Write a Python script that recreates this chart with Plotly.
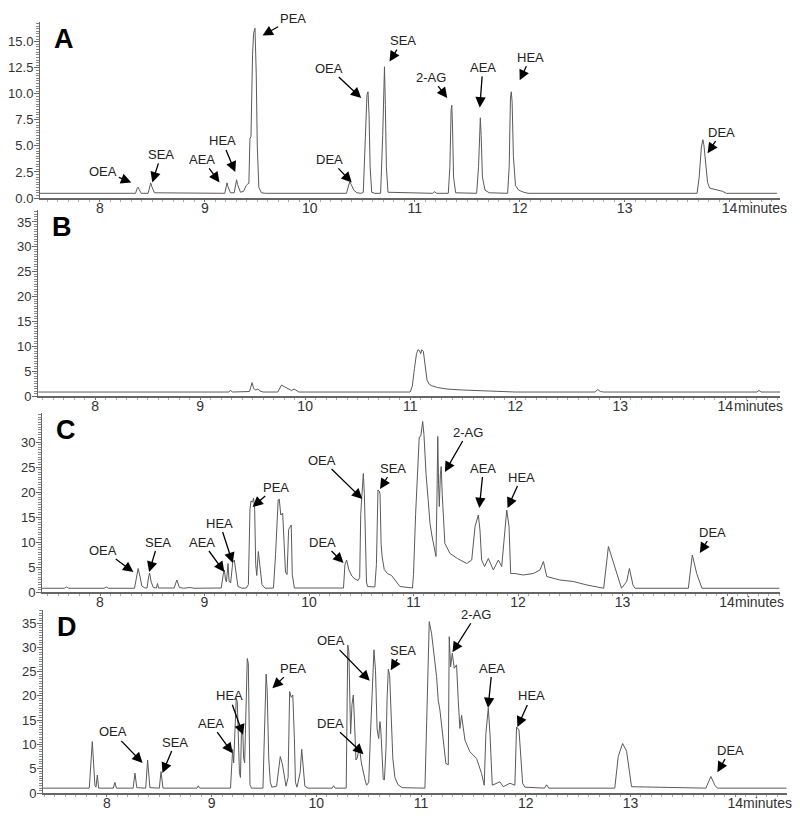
import plotly.graph_objects as go

# ---------------- DATA (retention time in minutes, signal) ----------------
# Panel A
a_time = [7.43, 8.34, 8.355, 8.365, 8.375, 8.395, 8.46, 8.475, 8.485, 8.495, 8.52,
          9.19, 9.205, 9.212, 9.22, 9.245, 9.28, 9.295, 9.303, 9.312, 9.34,
          9.37, 9.395, 9.41, 9.42, 9.43, 9.44, 9.455, 9.465, 9.478, 9.49, 9.50, 9.515, 9.54, 9.58,
          10.35, 10.365, 10.38, 10.395, 10.42, 10.45, 10.49,
          10.51, 10.53, 10.545, 10.555, 10.565, 10.575, 10.59, 10.62,
          10.675, 10.695, 10.705, 10.712, 10.72, 10.73, 10.745,
          11.17, 11.19, 11.21,
          11.32, 11.335, 11.347, 11.353, 11.36, 11.37, 11.39,
          11.59, 11.608, 11.618, 11.625, 11.633, 11.645, 11.67, 11.71,
          11.885, 11.90, 11.912, 11.92, 11.928, 11.94, 11.96, 11.99, 12.04, 12.08,
          13.69, 13.71, 13.73, 13.745, 13.755, 13.77, 13.79, 13.81, 13.87, 13.93, 13.97, 14.45]
a_signal = [0.45, 0.45, 0.9, 1.05, 0.8, 0.45, 0.45, 1.2, 1.45, 1.1, 0.5,
            0.45, 1.2, 1.45, 1.1, 0.5, 0.5, 1.5, 1.75, 1.3, 0.55,
            0.65, 1.2, 1.35, 1.4, 5.7, 5.9, 13.8, 15.8, 16.3, 12.0, 5.0, 1.0, 0.5, 0.45,
            0.45, 1.0, 1.55, 1.3, 0.75, 0.5, 0.45,
            0.55, 5.0, 9.9, 10.2, 8.0, 3.0, 0.55, 0.45,
            0.45, 6.0, 12.2, 12.6, 9.0, 3.0, 0.55,
            0.45, 0.6, 0.45,
            0.45, 3.0, 8.5, 8.9, 7.0, 2.0, 0.5,
            0.45, 3.0, 7.4, 7.7, 6.0, 2.0, 0.75, 0.5,
            0.45, 3.0, 9.6, 10.2, 9.2, 4.0, 1.2, 0.75, 0.55, 0.45,
            0.45, 2.0, 4.8, 5.6, 5.1, 3.5, 1.5, 0.95, 0.8, 0.65, 0.45, 0.45]

# Panel B
b_time = [7.46, 9.27, 9.29, 9.31, 9.47, 9.485, 9.495, 9.51, 9.53, 9.55, 9.57, 9.60,
          9.74, 9.76, 9.775, 9.80, 9.84, 9.87, 9.895, 9.915, 9.94,
          11.00, 11.02, 11.04, 11.06, 11.075, 11.09, 11.10, 11.11, 11.125, 11.14, 11.16,
          11.18, 11.20, 11.26, 11.35, 11.50, 11.80, 12.0,
          12.76, 12.785, 12.81, 12.84, 14.30, 14.32, 14.34, 14.52]
b_signal = [0.8, 0.8, 1.1, 0.8, 0.9, 2.4, 2.7, 1.5, 1.2, 1.4, 1.0, 0.8,
            0.8, 1.6, 2.2, 1.9, 1.5, 1.1, 1.4, 1.1, 0.8,
            0.8, 2.0, 5.5, 8.5, 9.3, 9.1, 8.5, 9.3, 9.0, 6.0, 3.2,
            2.4, 2.1, 1.7, 1.4, 1.2, 1.0, 0.8,
            0.8, 1.3, 0.9, 0.8, 0.8, 1.1, 0.8, 0.8]

# Panel C
c_time = [7.445, 7.66, 7.68, 7.70, 8.04, 8.06, 8.08,
          8.33, 8.35, 8.365, 8.38, 8.40, 8.43, 8.45, 8.465, 8.475, 8.49, 8.51, 8.54, 8.55, 8.56,
          8.71, 8.735, 8.76, 8.80, 8.86, 8.90,
          9.16, 9.18, 9.19, 9.20, 9.21, 9.225, 9.235, 9.25, 9.27, 9.285, 9.30, 9.32, 9.36, 9.40,
          9.42, 9.435, 9.445, 9.46, 9.47, 9.48, 9.49, 9.50, 9.515, 9.53, 9.55, 9.58,
          9.66, 9.68, 9.705, 9.715, 9.73, 9.748, 9.76, 9.775, 9.79, 9.805, 9.83, 9.84, 9.86,
          10.33, 10.344, 10.36, 10.38, 10.41, 10.44, 10.47, 10.485,
          10.495, 10.505, 10.52, 10.53, 10.54, 10.55, 10.56, 10.63,
          10.645, 10.66, 10.672, 10.68, 10.69, 10.70, 10.72, 10.75, 10.79, 10.83, 10.87, 10.99,
          11.00, 11.02, 11.04, 11.055, 11.07, 11.088, 11.10, 11.12, 11.14, 11.158, 11.175, 11.19,
          11.205, 11.215, 11.225, 11.232, 11.24, 11.247, 11.257, 11.265, 11.275, 11.29, 11.30,
          11.35, 11.42, 11.51, 11.557,
          11.589, 11.62, 11.636, 11.652, 11.68, 11.716, 11.764, 11.812, 11.844,
          11.87, 11.892, 11.914, 11.93, 11.97, 12.05, 12.147, 12.21, 12.243, 12.275,
          12.40, 12.53, 12.66, 12.82, 12.865, 12.913, 12.99, 13.04, 13.066, 13.10, 13.12,
          13.63, 13.668, 13.71, 13.76, 14.50]
c_signal = [0.75, 0.75, 1.0, 0.75, 0.75, 1.0, 0.75,
            0.75, 3.0, 4.7, 3.4, 1.2, 0.8, 0.8, 3.0, 3.8, 2.0, 0.9, 0.8, 1.7, 0.8,
            0.8, 2.4, 0.9, 0.75, 0.9, 0.75,
            0.8, 3.6, 4.4, 2.6, 2.0, 5.7, 2.2, 1.8, 5.9, 6.4, 4.0, 1.1, 0.75, 0.8,
            1.5, 16.5, 18.2, 18.0, 18.8, 16.5, 5.5, 3.3, 8.1, 5.5, 1.5, 0.75,
            0.8, 7.5, 18.4, 18.6, 15.4, 15.8, 11.5, 4.0, 3.5, 12.5, 13.4, 3.5, 0.8,
            0.8, 5.5, 6.4, 4.5, 3.2, 2.6, 2.3, 2.9,
            15.5, 19.0, 23.7, 19.5, 7.5, 2.0, 1.1, 1.0,
            5.5, 20.4, 20.2, 19.5, 9.5, 7.0, 4.5, 3.7, 3.3, 2.2, 1.1, 0.8,
            3.5, 15.5, 26.5, 31.0, 31.2, 34.1, 31.5, 23.5, 18.5, 13.7, 11.4, 9.7,
            7.9, 7.1, 19.5, 31.1, 21.5, 17.1, 23.5, 25.1, 19.5, 11.5, 9.7,
            7.7, 6.7, 5.7, 6.4,
            13.1, 15.4, 12.4, 6.4, 5.1, 6.7, 4.4, 6.4, 5.1,
            11.7, 16.4, 13.1, 3.7, 3.7, 3.4, 3.7, 4.4, 6.1, 3.1,
            2.4, 2.1, 1.4, 0.75, 9.1, 5.7, 0.75, 2.1, 4.7, 1.4, 0.75,
            0.75, 7.4, 3.7, 0.75, 0.75]

# Panel D
d_time = [7.39, 7.831, 7.86, 7.885, 7.895, 7.908, 7.92, 8.06, 8.076, 8.09,
          8.25, 8.267, 8.285, 8.37, 8.388, 8.41, 8.50, 8.516, 8.535, 8.86, 8.872, 8.885,
          9.18, 9.19, 9.20, 9.21, 9.225, 9.235, 9.245, 9.255, 9.265, 9.275, 9.285, 9.295,
          9.305, 9.315, 9.33, 9.34, 9.35, 9.358, 9.366, 9.38,
          9.49, 9.50, 9.505, 9.51, 9.52, 9.53, 9.545, 9.56, 9.575, 9.62, 9.645, 9.655,
          9.675, 9.69, 9.71, 9.73, 9.745, 9.76, 9.775, 9.79, 9.80, 9.815, 9.845, 9.86,
          9.875, 9.89, 9.92, 10.15, 10.165, 10.18,
          10.285, 10.29, 10.30, 10.31, 10.32, 10.327, 10.34, 10.353, 10.365, 10.378,
          10.39, 10.41, 10.43, 10.448, 10.465, 10.48, 10.50, 10.515, 10.528, 10.54, 10.55,
          10.565, 10.58, 10.595, 10.607, 10.615, 10.625, 10.639, 10.65, 10.665, 10.675,
          10.687, 10.70, 10.71, 10.73, 10.75, 10.78, 10.82,
          11.037, 11.06, 11.078, 11.10, 11.148, 11.164, 11.18, 11.212, 11.237, 11.26,
          11.269, 11.282, 11.298, 11.317, 11.339, 11.355, 11.371, 11.387, 11.419, 11.466,
          11.53, 11.578, 11.603, 11.619, 11.642, 11.658, 11.68, 11.753, 11.785, 11.849,
          11.896, 11.912, 11.935, 11.97, 11.992, 12.18, 12.199, 12.22,
          12.85, 12.883, 12.925, 12.963, 13.01, 13.72, 13.743, 13.768, 13.806, 13.83, 14.49]
d_signal = [1.0, 1.0, 10.6, 1.5, 1.2, 3.7, 1.0, 1.0, 2.2, 1.0,
            1.0, 4.1, 1.1, 1.0, 6.8, 1.1, 1.0, 4.4, 1.0, 1.0, 1.5, 1.0,
            1.0, 7.2, 9.0, 6.2, 17.2, 19.6, 18.7, 13.2, 4.2, 3.2, 13.2, 14.2,
            7.2, 6.2, 19.2, 27.7, 26.7, 11.2, 1.7, 1.0,
            1.0, 9.2, 14.2, 13.2, 24.5, 21.2, 7.2, 2.2, 1.2, 1.4, 6.7, 7.5,
            6.0, 4.2, 1.4, 3.2, 20.9, 19.7, 20.2, 11.2, 2.2, 1.2, 4.2, 9.0,
            5.2, 1.4, 1.0, 1.0, 1.5, 1.0,
            1.0, 19.2, 30.5, 29.2, 17.2, 12.2, 18.2, 20.2, 14.2, 6.8,
            7.2, 9.5, 6.2, 4.1, 2.7, 1.6, 2.2, 11.2, 19.2, 27.2, 29.5,
            25.2, 13.2, 11.2, 14.7, 13.2, 7.2, 2.8, 2.7, 9.2, 19.2,
            25.5, 24.2, 17.2, 7.2, 3.2, 1.7, 1.1,
            1.0, 20.0, 35.3, 32.9, 24.0, 19.1, 17.1, 10.9, 6.1, 5.8,
            32.2, 26.0, 28.8, 25.7, 26.4, 19.1, 13.3, 16.0, 10.9, 8.5,
            7.1, 4.0, 1.6, 12.2, 17.5, 12.2, 1.6, 2.3, 1.3, 2.0,
            1.6, 13.6, 13.0, 2.0, 1.2, 1.0, 1.7, 1.0,
            1.0, 7.5, 10.2, 8.6, 1.3, 1.0, 2.3, 3.4, 1.6, 1.0, 1.0]

# Peak labels: name, arrow-head time, arrow-head signal
a_names = ["OEA", "SEA", "AEA", "HEA", "PEA", "DEA", "OEA", "SEA", "2-AG", "AEA", "HEA", "DEA"]
a_head_t = [8.30, 8.50, 9.14, 9.29, 9.55, 10.40, 10.49, 10.76, 11.31, 11.62, 12.00, 13.79]
a_head_y = [1.5, 1.5, 1.5, 2.5, 15.6, 1.5, 9.6, 13.1, 9.6, 8.7, 11.3, 4.3]

c_names = ["OEA", "SEA", "AEA", "HEA", "PEA", "DEA", "OEA", "SEA", "2-AG", "AEA", "HEA", "DEA"]
c_head_t = [8.32, 8.47, 9.19, 9.27, 9.46, 10.33, 10.51, 10.68, 11.30, 11.63, 11.90, 13.74]
c_head_y = [4.0, 4.0, 4.0, 5.8, 17.0, 5.8, 18.6, 20.6, 24.0, 16.8, 16.8, 7.8]

d_names = ["OEA", "SEA", "AEA", "HEA", "PEA", "DEA", "OEA", "SEA", "2-AG", "AEA", "HEA", "DEA"]
d_head_t = [8.34, 8.53, 9.20, 9.30, 9.58, 10.45, 10.51, 10.71, 11.30, 11.64, 11.92, 13.83]
d_head_y = [6.2, 4.1, 8.2, 12.0, 21.6, 8.0, 23.1, 25.3, 29.0, 17.5, 13.6, 4.3]

panel_letters = ["A", "B", "C", "D"]
x_ticks = [8, 9, 10, 11, 12, 13, 14]

for _t, _s in [(a_time, a_signal), (b_time, b_signal), (c_time, c_signal), (d_time, d_signal)]:
    assert len(_t) == len(_s), (len(_t), len(_s))

# ---------------- STYLE / LAYOUT ----------------
OFF = 8                      # page body margin of the html page
W, H = 800 - OFF, 816 - OFF
FONT = "Liberation Sans, Arial, sans-serif"
LINE = "#5a5a5a"


def fx(px):
    return (px - OFF) / W


def fy(py):
    return (H - (py - OFF)) / H


# pixel boxes in the target picture: (left, right, top, bottom)
panels = [
    dict(box=(40, 780, 22, 198), xr=[7.43, 14.48], yr=[0, 16.9],
         yt=[0, 2.5, 5, 7.5, 10, 12.5, 15], fmt=".1f", minor=0.25),
    dict(box=(38, 780, 210, 396), xr=[7.457, 14.52], yr=[0, 37.4],
         yt=[0, 5, 10, 15, 20, 25, 30, 35], fmt="d", minor=0.5),
    dict(box=(42, 780, 413, 592), xr=[7.445, 14.507], yr=[0, 35.8],
         yt=[0, 5, 10, 15, 20, 25, 30], fmt="d", minor=0.5),
    dict(box=(43, 787, 610, 793), xr=[7.389, 14.495], yr=[0, 37.7],
         yt=[0, 5, 10, 15, 20, 25, 30, 35], fmt="d", minor=0.5),
]
series = [(a_time, a_signal), (b_time, b_signal), (c_time, c_signal), (d_time, d_signal)]

fig = go.Figure()
layout = dict(width=W, height=H, margin=dict(l=0, r=0, t=0, b=0),
              paper_bgcolor="white", plot_bgcolor="white", showlegend=False,
              font=dict(family=FONT, color="#333"))
annotations = []

for i, (p, (tx, sy)) in enumerate(zip(panels, series)):
    n = "" if i == 0 else str(i + 1)
    l, r, t, b = p["box"]
    fig.add_trace(go.Scatter(x=tx, y=sy, mode="lines",
                             line=dict(color=LINE, width=1),
                             xaxis="x" + n, yaxis="y" + n, hoverinfo="skip"))
    layout["xaxis" + n] = dict(
        domain=[fx(l), fx(r)], range=p["xr"], anchor="y" + n,
        tickvals=x_ticks, ticktext=[str(v) for v in x_ticks],
        showgrid=False, zeroline=False, showline=True, linecolor="#666",
        linewidth=1.5 if i < 2 else 2.2,
        ticks="outside", ticklen=2, tickcolor="#777", ticklabelstandoff=-6,
        minor=dict(ticks="outside", ticklen=2, dtick=0.1, tickcolor="#aaa"),
        tickfont=dict(size=14, color="#333"), automargin=False, fixedrange=True)
    layout["yaxis" + n] = dict(
        domain=[fy(b), fy(t)], range=p["yr"], anchor="x" + n,
        tickvals=p["yt"], tickformat=p["fmt"],
        showgrid=False, zeroline=False, showline=True, linecolor="#666", linewidth=1,
        ticks="outside", ticklen=5, tickcolor="#666", ticklabelstandoff=-2,
        minor=dict(ticks="outside", ticklen=3, dtick=p["minor"], tickcolor="#888"),
        tickfont=dict(size=13, color="#333"), automargin=False, fixedrange=True)
    # "minutes" unit after the 14 tick
    annotations.append(dict(text="minutes", x=14.06, y=0, xref="x" + n, yref="y" + n,
                            xanchor="left", yanchor="top", yshift=0, showarrow=False,
                            font=dict(size=14, color="#333", family=FONT)))
    # panel letter
    annotations.append(dict(text="<b>%s</b>" % panel_letters[i],
                            x=fx(l + 12), y=fy(t + 17), xref="paper", yref="paper",
                            xanchor="left", yanchor="middle", showarrow=False,
                            font=dict(size=27, color="black", family=FONT)))

# peak-label offsets (pixels, text centre relative to arrow head)
a_off = [(-28, -11), (9, -28), (-17, -23), (-13, -31), (30, -17), (-22, -23),
         (-32, -30), (13, -21), (-16, -21), (3, -40), (11, -23), (14, -21)]
c_off = [(-30, -22), (9, -30), (-22, -30), (-13, -40), (23, -20), (-21, -21),
         (-40, -39), (13, -21), (23, -40), (4, -40), (14, -31), (13, -21)]
d_off = [(-30, -31), (13, -31), (-22, -30), (-14, -39), (21, -20), (-33, -31),
         (-39, -40), (12, -20), (24, -38), (4, -40), (14, -31), (13, -22)]

for n, names, ht, hy, offs in [("", a_names, a_head_t, a_head_y, a_off),
                               ("3", c_names, c_head_t, c_head_y, c_off),
                               ("4", d_names, d_head_t, d_head_y, d_off)]:
    for name, xt, yv, (ox, oy) in zip(names, ht, hy, offs):
        annotations.append(dict(text=name, x=xt, y=yv, xref="x" + n, yref="y" + n,
                                ax=ox, ay=oy, showarrow=True, arrowhead=2,
                                arrowsize=1.6, arrowwidth=1.3, arrowcolor="black",
                                font=dict(size=13, color="#222", family=FONT)))

layout["annotations"] = annotations
fig.update_layout(**layout)
fig.write_html("out.html")
